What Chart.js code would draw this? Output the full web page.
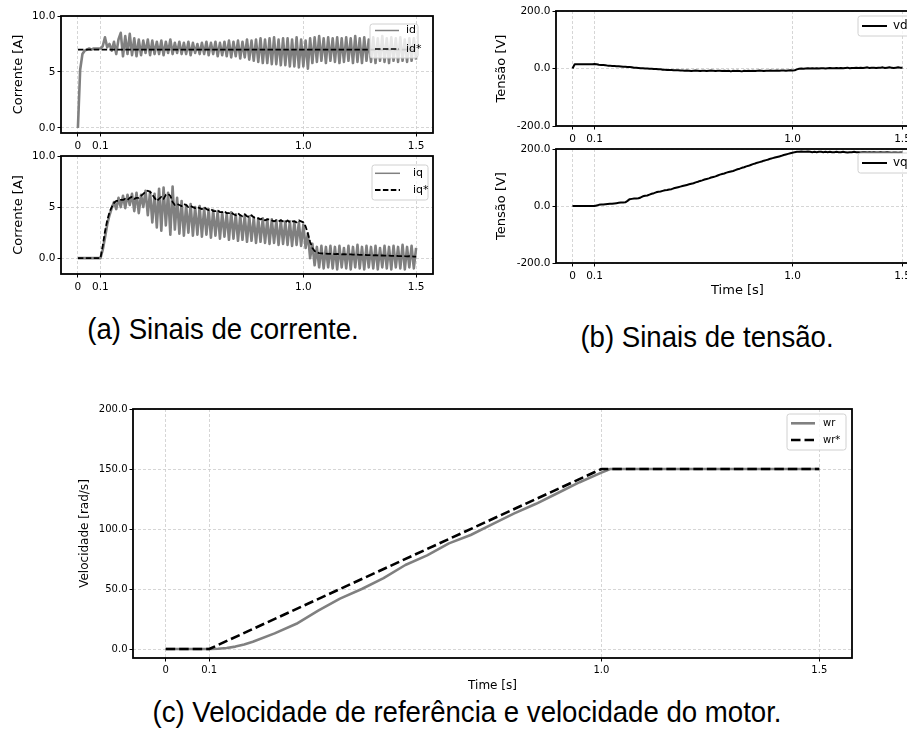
<!DOCTYPE html>
<html><head><meta charset="utf-8">
<script src="https://cdn.jsdelivr.net/npm/chart.js@4.4.1/dist/chart.umd.min.js"></script>
<style>
html,body{margin:0;padding:0;width:907px;height:742px;overflow:hidden;background:#fff;}
body{position:relative;}
canvas{position:absolute;}
.cap{position:absolute;font-family:"Liberation Sans",Arial,sans-serif;font-size:30px;color:#000;white-space:nowrap;transform:translate(-50%,-50%) scaleX(0.92);}
</style></head><body>
<canvas id="cA1"></canvas>
<canvas id="cA2"></canvas>
<canvas id="cB1"></canvas>
<canvas id="cB2"></canvas>
<canvas id="cC"></canvas>
<div class="cap" style="left:223px;top:329px;">(a) Sinais de corrente.</div>
<div class="cap" style="left:707px;top:337px;">(b) Sinais de tensão.</div>
<div class="cap" style="left:467px;top:712px;">(c) Velocidade de referência e velocidade do motor.</div>
<script>
// ---------- DATA ----------
const time = [
0,0.01,0.02,0.03,0.04,0.05,0.06,0.07,0.08,0.09,
0.1,0.11,0.12,0.13,0.14,0.15,0.16,0.17,0.18,0.19,
0.2,0.21,0.22,0.23,0.24,0.25,0.26,0.27,0.28,0.29,
0.3,0.31,0.32,0.33,0.34,0.35,0.36,0.37,0.38,0.39,
0.4,0.41,0.42,0.43,0.44,0.45,0.46,0.47,0.48,0.49,
0.5,0.51,0.52,0.53,0.54,0.55,0.56,0.57,0.58,0.59,
0.6,0.61,0.62,0.63,0.64,0.65,0.66,0.67,0.68,0.69,
0.7,0.71,0.72,0.73,0.74,0.75,0.76,0.77,0.78,0.79,
0.8,0.81,0.82,0.83,0.84,0.85,0.86,0.87,0.88,0.89,
0.9,0.91,0.92,0.93,0.94,0.95,0.96,0.97,0.98,0.99,
1.0,1.01,1.02,1.03,1.04,1.05,1.06,1.07,1.08,1.09,
1.1,1.11,1.12,1.13,1.14,1.15,1.16,1.17,1.18,1.19,
1.2,1.21,1.22,1.23,1.24,1.25,1.26,1.27,1.28,1.29,
1.3,1.31,1.32,1.33,1.34,1.35,1.36,1.37,1.38,1.39,
1.4,1.41,1.42,1.43,1.44,1.45,1.46,1.47,1.48,1.49,
1.5];

const id = [
0,5.2,6.6,6.9,7.0,7.1,7.0,7.1,7.1,7.1,
7.1,7.3,8.1,7.2,7.5,6.9,7.7,6.6,7.9,8.5,
6.4,8.2,6.6,8.4,6.5,8.0,6.4,7.9,6.5,7.8,
6.7,7.9,6.5,7.8,6.6,7.7,6.6,7.8,6.5,7.7,
6.7,7.9,6.6,7.6,6.7,7.7,6.6,7.6,6.6,7.7,
6.5,7.6,6.7,7.5,6.6,7.6,6.6,7.7,6.5,7.6,
6.6,7.7,6.4,7.6,6.5,7.7,6.4,7.8,6.3,7.7,
6.4,7.8,6.2,7.7,6.3,7.9,6.1,7.8,6.0,7.9,
5.9,8.0,5.8,7.9,5.8,8.0,5.7,8.1,5.7,7.9,
5.6,8.0,5.6,8.0,5.5,7.9,5.5,8.1,5.4,7.9,
5.5,7.8,5.3,8.0,5.8,8.1,5.9,8.2,6.0,8.0,
5.8,8.1,6.0,8.0,5.9,8.1,5.8,8.0,5.9,8.1,
6.0,8.0,5.8,8.2,5.9,8.0,5.8,8.1,6.0,7.9,
5.9,8.1,5.8,8.0,6.0,8.2,5.9,8.0,5.8,8.1,
6.0,8.0,5.9,8.1,6.0,7.9,5.9,8.0,6.0,8.0,
6.1];

const timeIdRef = [0, 1.5];
const idRef = [7.0, 7.0];

const iq = [
0,0,0,0,0,0,0,0,0,0,
0,0.8,2.0,3.3,4.2,4.9,5.5,4.8,5.9,5.0,
6.1,4.9,6.2,5.2,6.3,4.6,6.4,4.4,6.2,5.0,
6.6,4.2,6.5,3.5,6.3,3.0,6.8,2.7,6.9,3.2,
6.4,2.3,7.0,2.8,5.9,2.4,5.6,2.2,5.2,2.5,
5.3,2.2,5.0,2.3,5.1,2.1,4.9,2.3,4.8,2.0,
4.7,2.2,4.6,1.9,4.5,2.1,4.4,1.8,4.5,1.9,
4.3,1.7,4.2,1.8,4.2,1.6,4.1,1.7,4.0,1.5,
3.9,1.6,3.9,1.5,3.8,1.4,3.8,1.5,3.7,1.3,
3.7,1.4,3.6,1.3,3.6,1.2,3.6,1.3,3.5,1.2,
3.3,1.0,2.4,0.0,1.4,-0.7,1.1,-0.9,1.2,-1.0,
1.1,-0.9,1.2,-1.0,1.1,-1.1,1.2,-0.9,1.0,-1.0,
1.2,-1.1,1.1,-0.9,1.3,-1.0,1.1,-1.1,1.2,-0.9,
1.1,-1.0,1.2,-1.1,1.0,-0.9,1.2,-1.0,1.1,-1.1,
1.2,-0.9,1.1,-1.0,1.3,-1.1,1.1,-0.9,1.2,-1.0,
1.0];

const iqRef = [
0,0,0,0,0,0,0,0,0,0,
0,1.2,2.6,3.7,4.5,5.0,5.4,5.6,5.6,5.7,
5.7,5.8,5.7,5.9,6.0,5.8,5.9,5.9,6.1,6.3,
6.5,6.6,6.5,6.2,5.9,5.6,5.8,6.0,5.8,6.2,
6.3,6.1,5.5,5.2,5.3,5.2,5.1,5.3,5.2,5.0,
5.1,5.0,4.9,5.0,4.9,4.8,5.0,4.8,4.7,4.8,
4.6,4.6,4.7,4.5,4.5,4.6,4.4,4.4,4.5,4.3,
4.2,4.4,4.2,4.1,4.3,4.1,4.0,4.2,4.0,3.9,
3.9,3.8,3.9,3.7,3.8,3.8,3.7,3.6,3.7,3.6,
3.7,3.6,3.5,3.7,3.5,3.6,3.6,3.5,3.7,3.6,
3.5,3.1,2.4,1.6,1.0,0.7,0.55,0.5,0.47,0.45,
0.44,0.42,0.43,0.41,0.4,0.41,0.39,0.38,0.39,0.37,
0.36,0.37,0.35,0.34,0.35,0.33,0.32,0.33,0.31,0.3,
0.3,0.28,0.29,0.27,0.26,0.27,0.25,0.24,0.25,0.23,
0.22,0.23,0.21,0.2,0.21,0.19,0.18,0.19,0.17,0.16,
0.15];

const vd = [
0,15,15,15,15,15,15,15,15,15,
16,15,13,12,12,11,10,10,9,9,
8,8,7,6,6,5,5,4,3,3,
2,1,1,0,0,-1,-1,-2,-2,-3,
-3,-4,-4,-5,-5,-5,-6,-6,-6,-7,
-7,-8,-7,-8,-9,-8,-7,-8,-9,-8,
-8,-9,-8,-7,-8,-9,-8,-8,-9,-8,
-9,-8,-10,-8,-9,-8,-9,-10,-8,-9,
-8,-9,-8,-9,-8,-7,-8,-9,-8,-8,
-7,-8,-8,-7,-8,-7,-7,-8,-7,-6,
-7,-6,-3,-1,0,-1,0,1,0,1,
0,1,0,1,1,0,1,2,1,1,
2,1,2,1,2,3,1,2,2,3,
2,3,2,3,4,2,3,3,2,3,
3,4,2,3,4,3,2,3,4,3,
3];

const vq = [
0,0,0,0,0,0,0,0,0,0,
0,2,4,5,5,6,7,8,8,9,
10,11,12,12,13,18,24,25,26,26,
27,30,34,36,37,40,43,45,48,50,
51,53,55,56,58,59,62,64,66,68,
70,72,74,76,78,80,83,85,88,90,
93,95,97,100,102,104,107,110,112,114,
117,119,121,123,126,129,131,134,136,139,
141,144,147,149,152,154,156,159,161,163,
166,168,170,172,174,176,179,181,183,185,
187,189,190,190,191,190,190,191,190,189,
190,189,190,190,189,190,189,190,189,189,
190,189,189,190,189,188,189,189,190,189,
189,188,189,189,188,189,188,189,188,188,
189,188,188,189,188,187,188,188,187,188,
188];

const timeWr = [0,0.1,0.12,0.14,0.16,0.18,0.2,0.25,0.3,0.35,0.4,0.45,0.5,0.55,0.6,0.65,0.7,0.75,0.8,0.85,0.9,0.95,1.0,1.02,1.05,1.5];
const wr     = [0,0,0.2,0.8,2.0,3.8,6.0,13,21,32,42,50,59,70,78,88,95,104,113,121,130,139,147,150,150,150];
const timeWrRef = [0,0.1,1.0,1.5];
const wrRef     = [0,0,150,150];

const xTicks = [0,0.1,1.0,1.5];
const xTickLabels = ['0','0.1','1.0','1.5'];
const yTicksI = [0,5,10];
const yTickLabelsI = ['0.0','5','10.0'];
const yTicksV = [-200,0,200];
const yTickLabelsV = ['-200.0','0.0','200.0'];
const yTicksW = [0,50,100,150,200];
const yTickLabelsW = ['0.0','50.0','100.0','150.0','200.0'];

// ---------- HELPERS ----------
const FONT = 'DejaVu Sans';
const GRAY = '#808080';
function pts(xs, ys){ return xs.map((x,i)=>({x:x, y:ys[i]})); }

const framePlugin = {
  id: 'frameLegend',
  afterDatasetsDraw(chart, args, opts) {
    const ctx = chart.ctx, a = chart.chartArea;
    ctx.save();
    ctx.strokeStyle = '#000'; ctx.lineWidth = opts.frameWidth || 1.5;
    ctx.strokeRect(a.left, a.top, a.right - a.left, a.bottom - a.top);
    const L = opts.legend;
    if (L) {
      const ox = opts.origin[0], oy = opts.origin[1];
      const bx = L.x - ox, by = L.y - oy;
      ctx.beginPath();
      if (ctx.roundRect) ctx.roundRect(bx, by, L.w, L.h, 2.5); else ctx.rect(bx, by, L.w, L.h);
      ctx.fillStyle = 'rgba(255,255,255,0.8)'; ctx.fill();
      ctx.strokeStyle = '#d0d0d0'; ctx.lineWidth = 1; ctx.stroke();
      chart.data.datasets.forEach((ds, i) => {
        const ry = L.rows[i] - oy;
        ctx.beginPath();
        ctx.setLineDash(ds.borderDash || []);
        ctx.strokeStyle = ds.borderColor; ctx.lineWidth = ds.legendWidth || ds.borderWidth;
        ctx.moveTo(L.x0 - ox, ry); ctx.lineTo(L.x1 - ox, ry); ctx.stroke();
        ctx.setLineDash([]);
        ctx.fillStyle = '#000'; ctx.font = L.font + 'px "' + FONT + '"';
        ctx.textBaseline = 'middle'; ctx.textAlign = 'left';
        ctx.fillText(ds.label, L.tx - ox, ry);
      });
    }
    ctx.restore();
  }
};

function axisX(g, tickSize, title, titleSize) {
  return {
    type: 'linear', min: -0.075, max: 1.575,
    afterBuildTicks: s => { s.ticks = xTicks.map(v => ({value: v})); },
    afterFit: s => { s.height = g.padB; s.paddingLeft = 0; s.paddingRight = 0; },
    ticks: { autoSkip: false, maxRotation: 0, minRotation: 0, padding: g.xPad || 3, color: '#000',
             font: {family: FONT, size: tickSize}, callback: (v, i) => xTickLabels[i] },
    grid: { color: '#cccccc', lineWidth: 0.8, drawTicks: true, tickLength: 3.5, tickColor: '#000', tickWidth: 1 },
    border: { display: false, dash: [3, 2] },
    title: title ? { display: true, text: title, color: '#000', font: {family: FONT, size: titleSize}, padding: 0 } : { display: false }
  };
}
function axisY(g, min, max, ticks, labels, tickSize, title, titleSize) {
  return {
    type: 'linear', min: min, max: max,
    afterBuildTicks: s => { s.ticks = ticks.map(v => ({value: v})); },
    afterFit: s => { s.width = g.padL; s.paddingTop = 0; s.paddingBottom = 0; },
    ticks: { autoSkip: false, padding: 2, color: '#000', font: {family: FONT, size: tickSize}, callback: (v, i) => labels[i] },
    grid: { color: '#cccccc', lineWidth: 0.8, drawTicks: true, tickLength: 3.5, tickColor: '#000', tickWidth: 1 },
    border: { display: false, dash: [3, 2] },
    title: { display: true, text: title, color: '#000', font: {family: FONT, size: titleSize}, padding: 0 }
  };
}

function make(idc, g, datasets, xs, ys, legend) {
  const c = document.getElementById(idc);
  const W = g.R - g.L + g.padL + g.padR;
  const H = g.B - g.T + g.padT + g.padB;
  const left = g.L - g.padL, top = g.T - g.padT;
  c.width = W; c.height = H;
  c.style.width = W + 'px'; c.style.height = H + 'px';
  c.style.left = left + 'px'; c.style.top = top + 'px';
  return new Chart(c, {
    type: 'line',
    data: { datasets: datasets },
    options: {
      responsive: false, animation: false, devicePixelRatio: 1,
      layout: { padding: { left: 0, top: g.padT, right: g.padR, bottom: 0 } },
      elements: { point: { radius: 0 }, line: { tension: 0, borderJoinStyle: 'round' } },
      scales: { x: xs, y: ys },
      plugins: { legend: { display: false }, tooltip: { enabled: false },
                 frameLegend: { origin: [left, top], legend: legend, frameWidth: 1.8 } }
    },
    plugins: [framePlugin]
  });
}

// ---------- (a) currents ----------
const gA1 = {L:61, T:16, R:433, B:133, padL:50, padT:8, padR:12, padB:22, xPad:3};
make('cA1', gA1, [
  { label: 'id', data: pts(time, id), borderColor: GRAY, borderWidth: 2.6, legendWidth: 1.5, order: 1 },
  { label: 'id*', data: pts(timeIdRef, idRef), borderColor: '#000', borderWidth: 1.6, borderDash: [5.5, 2.4], order: 0 }
], axisX(gA1, 10.5), axisY(gA1, -0.45, 10, yTicksI, yTickLabelsI, 10.5, 'Corrente [A]', 13),
{ x: 370, y: 24, w: 48, h: 34, x0: 375, x1: 399, tx: 406, rows: [30.5, 49], font: 11 });

const gA2 = {L:61, T:156, R:433, B:274, padL:50, padT:8, padR:12, padB:22, xPad:3};
make('cA2', gA2, [
  { label: 'iq', data: pts(time, iq), borderColor: GRAY, borderWidth: 2.6, legendWidth: 1.5, order: 1 },
  { label: 'iq*', data: pts(time, iqRef), borderColor: '#000', borderWidth: 1.8, borderDash: [5.5, 2.4], order: 0 }
], axisX(gA2, 10.5), axisY(gA2, -1.55, 10, yTicksI, yTickLabelsI, 10.5, 'Corrente [A]', 13),
{ x: 372, y: 165, w: 56, h: 35, x0: 375, x1: 400, tx: 413, rows: [173.3, 190], font: 11 });

// ---------- (b) voltages ----------
const gB1 = {L:556, T:11, R:919, B:126, padL:62, padT:8, padR:12, padB:22, xPad:3};
make('cB1', gB1, [
  { label: 'vd', data: pts(time, vd), borderColor: '#000', borderWidth: 2 }
], axisX(gB1, 10.5), axisY(gB1, -200, 200, yTicksV, yTickLabelsV, 10.5, 'Tensão [V]', 13),
{ x: 858, y: 16, w: 70, h: 20, x0: 862, x1: 887, tx: 893, rows: [26], font: 12 });

const gB2 = {L:556, T:149, R:919, B:263, padL:62, padT:8, padR:12, padB:35, xPad:3};
make('cB2', gB2, [
  { label: 'vq', data: pts(time, vq), borderColor: '#000', borderWidth: 2 }
], axisX(gB2, 10.5, 'Time [s]', 13), axisY(gB2, -200, 200, yTicksV, yTickLabelsV, 10.5, 'Tensão [V]', 13),
{ x: 858, y: 153, w: 70, h: 20, x0: 862, x1: 887, tx: 893, rows: [163], font: 12 });

// ---------- (c) speed ----------
const gC = {L:133, T:409, R:852, B:658, padL:55, padT:8, padR:12, padB:35, xPad:3};
make('cC', gC, [
  { label: 'wr', data: pts(timeWr, wr), borderColor: GRAY, borderWidth: 2.6, order: 1 },
  { label: 'wr*', data: pts(timeWrRef, wrRef), borderColor: '#000', borderWidth: 2.6, borderDash: [9.5, 4], order: 0 }
], axisX(gC, 10, 'Time [s]', 12), axisY(gC, -7.5, 200, yTicksW, yTickLabelsW, 10, 'Velocidade [rad/s]', 12),
{ x: 787, y: 414, w: 59, h: 36, x0: 791, x1: 815, tx: 823, rows: [423.3, 440], font: 10 });
</script>
</body></html>
